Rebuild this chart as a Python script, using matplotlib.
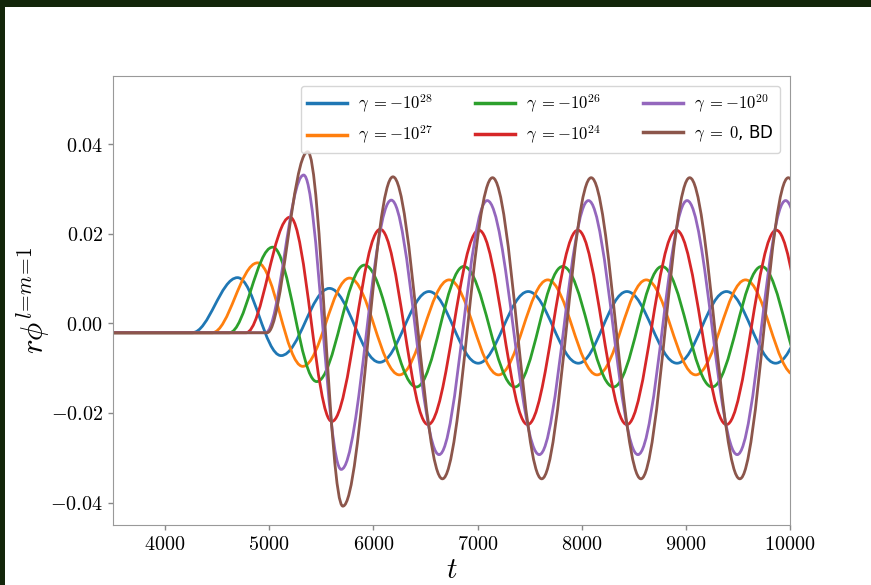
import matplotlib
matplotlib.use("Agg")
import matplotlib.pyplot as plt
from matplotlib.path import Path
from matplotlib.patches import PathPatch, Rectangle
from matplotlib.lines import Line2D
from matplotlib.ticker import FuncFormatter

plt.rcParams["mathtext.fontset"] = "cm"

# turning points of each waveform: onset on the baseline, then alternating peaks / troughs
baseline = -0.0021

t_28 = [4260, 4696, 5114, 5578, 6060, 6534, 7006, 7487, 7968, 8434, 8915, 9390, 9862, 10336]
v_28 = [baseline, 0.0102, -0.0072, 0.0078, -0.0087, 0.0071, -0.0089, 0.0071, -0.0089,
        0.0071, -0.0089, 0.0071, -0.0089, 0.0071]

t_27 = [4452, 4888, 5322, 5771, 6250, 6727, 7202, 7674, 8148, 8620, 9095, 9573, 10045]
v_27 = [baseline, 0.0135, -0.0096, 0.0101, -0.0115, 0.0097, -0.0115, 0.0097, -0.0115,
        0.0097, -0.0115, 0.0097, -0.0115]

t_26 = [4616, 5033, 5456, 5915, 6413, 6868, 7359, 7818, 8305, 8771, 9252, 9727, 10198]
v_26 = [baseline, 0.0170, -0.0130, 0.0130, -0.0142, 0.0127, -0.0142, 0.0127, -0.0142,
        0.0127, -0.0142, 0.0127, -0.0142]

t_24 = [4777, 5200, 5601, 6066, 6525, 7013, 7481, 7963, 8434, 8909, 9390, 9868, 10345]
v_24 = [baseline, 0.0237, -0.0219, 0.0210, -0.0226, 0.0208, -0.0226, 0.0208, -0.0226,
        0.0208, -0.0226, 0.0208, -0.0226]

t_20 = [4965, 5331, 5691, 6172, 6631, 7093, 7593, 8065, 8540, 9012, 9493, 9958, 10430]
v_20 = [baseline, 0.0331, -0.0326, 0.0275, -0.0293, 0.0274, -0.0293, 0.0274, -0.0293,
        0.0274, -0.0293, 0.0274, -0.0293]

t_bd = [4980, 5370, 5707, 6188, 6663, 7144, 7616, 8091, 8569, 9037, 9518, 9984, 10460]
v_bd = [baseline, 0.0383, -0.0408, 0.0327, -0.0347, 0.0325, -0.0347, 0.0325, -0.0347,
        0.0325, -0.0347, 0.0325, -0.0347]

labels = [r"$\gamma\;=-10^{28}$", r"$\gamma\;=-10^{27}$", r"$\gamma\;=-10^{26}$",
          r"$\gamma\;=-10^{24}$", r"$\gamma\;=-10^{20}$", r"$\gamma\;=\;0$, BD"]
colors = ["#1f77b4", "#ff7f0e", "#2ca02c", "#d62728", "#9467bd", "#8c564b"]
series = [(t_28, v_28), (t_27, v_27), (t_26, v_26), (t_24, v_24), (t_20, v_20), (t_bd, v_bd)]

x_ticks = [4000, 5000, 6000, 7000, 8000, 9000, 10000]
y_ticks = [-0.04, -0.02, 0.00, 0.02, 0.04]


def wave_path(ts, vs, t_start=3300):
    # flat lead-in, then smooth cubic segments with flat tangents at each turning point
    verts = [(t_start, vs[0]), (ts[0], vs[0])]
    codes = [Path.MOVETO, Path.LINETO]
    for i in range(len(ts) - 1):
        t0, t1 = ts[i], ts[i + 1]
        dt = t1 - t0
        verts += [(t0 + 0.37 * dt, vs[i]), (t1 - 0.37 * dt, vs[i + 1]), (t1, vs[i + 1])]
        codes += [Path.CURVE4] * 3
    return Path(verts, codes)


fig = plt.figure(figsize=(8.71, 5.85), dpi=100)
ax = fig.add_axes([0.1297, 0.1026, 0.7773, 0.7675])

for (ts, vs), c in zip(series, colors):
    ax.add_patch(PathPatch(wave_path(ts, vs), fill=False, edgecolor=c, lw=2.0,
                           capstyle="round", joinstyle="round"))

ax.set_xlim(3500, 10000)
ax.set_ylim(-0.045, 0.0552)
ax.set_xticks(x_ticks)
ax.set_yticks(y_ticks)
ax.xaxis.set_major_formatter(FuncFormatter(lambda v, p: r"$%d$" % v))
ax.yaxis.set_major_formatter(FuncFormatter(lambda v, p: r"$%.2f$" % v))
ax.tick_params(labelsize=14.5, color="#888888", length=3.5, width=1)
for s in ax.spines.values():
    s.set_color("#999999")

ax.set_xlabel(r"$t$", fontsize=21, labelpad=2)
ax.set_ylabel(r"$r\phi^{l\!=\!m\!=\!1}$", fontsize=22, labelpad=-2)

handles = [Line2D([], [], color=c, lw=2.5) for c in colors]
ax.legend(handles, labels, ncol=3, loc="upper right", fontsize=12, handlelength=2.4,
          handletextpad=0.65, columnspacing=2.5, borderaxespad=0.6, framealpha=0.8,
          edgecolor="#cccccc")

# dark frame strips along the top and left edges
fig.patches.append(Rectangle((0, 1 - 7 / 585), 1, 7 / 585, transform=fig.transFigure,
                             facecolor="#13260a", edgecolor="none", zorder=10))
fig.patches.append(Rectangle((0, 0), 5 / 871, 1, transform=fig.transFigure,
                             facecolor="#13260a", edgecolor="none", zorder=10))

fig.savefig("out.png", dpi=100)
